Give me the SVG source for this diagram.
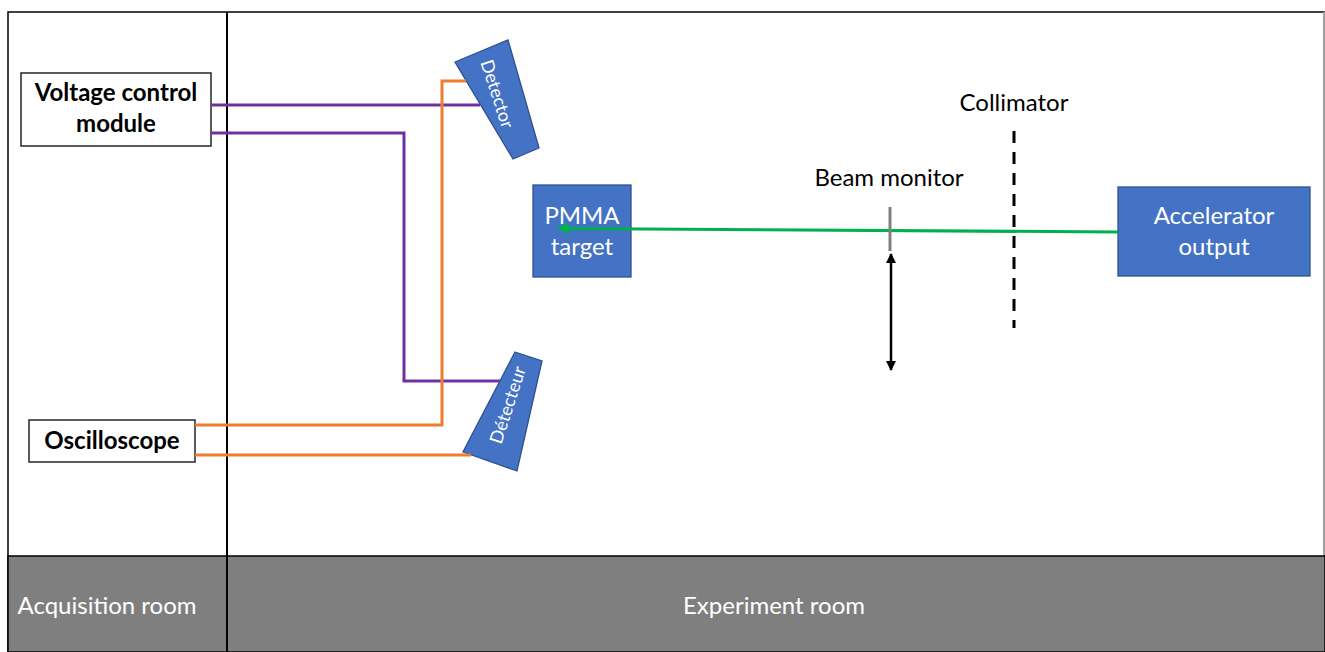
<svg xmlns="http://www.w3.org/2000/svg" width="1325" height="652" viewBox="0 0 1325 652">
<defs>
<style>
.t{font-family:Lato,"Liberation Sans",sans-serif;font-size:24px;text-anchor:middle}
.w{fill:#fff}
.k{fill:#000}
.b{font-weight:bold}
.node{fill:#4472C4;stroke:#2F528F;stroke-width:1.3}
.box{fill:#fff;stroke:#262626;stroke-width:1.5}
.pur{fill:none;stroke:#7030A0;stroke-width:3}
.ora{fill:none;stroke:#ED7D31;stroke-width:3}
.dt{font-family:Lato,"Liberation Sans",sans-serif;font-size:18px;text-anchor:middle;fill:#fff}
</style>
<marker id="ah" viewBox="0 0 10 10" refX="9" refY="5" markerWidth="4" markerHeight="4" orient="auto-start-reverse"><path d="M0,0L10,5L0,10z" fill="#00B050"/></marker>
<marker id="bk" viewBox="0 0 10 10" refX="9" refY="5" markerWidth="4" markerHeight="4" orient="auto-start-reverse"><path d="M0,0L10,5L0,10z" fill="#000"/></marker>
</defs>
<rect x="0" y="0" width="1325" height="652" fill="#fff"/>
<g id="frame">
<rect x="8" y="12" width="1316" height="640" fill="#fff" stroke="#000" stroke-width="1.5"/>
<line x1="1324" y1="12" x2="1324" y2="556" stroke="#bfbfbf" stroke-width="1.5"/>
<rect x="8" y="556" width="1317" height="96" fill="#7f7f7f" stroke="#000" stroke-width="1.5"/>
<line x1="227" y1="12" x2="227" y2="652" stroke="#000" stroke-width="2"/>
<text class="t w" x="107" y="614">Acquisition room</text>
<text class="t w" x="774" y="614">Experiment room</text>
</g>
<g id="voltage">
<rect class="box" x="21" y="73" width="190" height="73"/>
<text class="t k b" x="116" y="101">Voltage control</text>
<text class="t k b" x="116" y="132">module</text>
</g>
<g id="oscilloscope">
<rect class="box" x="29" y="420" width="166" height="42"/>
<text class="t k b" x="112" y="449">Oscilloscope</text>
</g>
<g id="detector1">
<polygon class="node" points="455,62 508,40 539,148 513,159"/>
<text class="dt" transform="translate(497,94) rotate(72)" dy="6">Detector</text>
</g>
<g id="detector2">
<polygon class="node" points="515,352 542,361 517,471 463,452"/>
<text class="dt" transform="translate(508,405) rotate(-72)" dy="6">Détecteur</text>
</g>
<g id="pmma">
<rect class="node" x="533" y="185" width="98" height="92"/>
<text class="t w" x="582" y="224">PMMA</text>
<text class="t w" x="582" y="255">target</text>
</g>
<g id="accelerator">
<rect class="node" x="1118" y="187" width="192" height="89"/>
<text class="t w" x="1214" y="224">Accelerator</text>
<text class="t w" x="1214" y="255">output</text>
</g>
<g id="beammonitor">
<text class="t k" x="889" y="186">Beam monitor</text>
</g>
<g id="collimator">
<text class="t k" x="1014" y="111">Collimator</text>
</g>
<g id="connectors">
<polyline class="pur" points="211,105 480,105"/>
<polyline class="pur" points="211,133 404,133 404,381 500,381"/>
<polyline class="ora" points="195,425 442,425 442,81 466,81"/>
<polyline class="ora" points="195,455 471,455"/>
<line x1="1118" y1="232" x2="558" y2="228.5" stroke="#00B050" stroke-width="3" marker-end="url(#ah)"/>
<line x1="890" y1="207" x2="890" y2="251" stroke="#808080" stroke-width="3"/>
<line x1="891" y1="254" x2="891" y2="370" stroke="#000" stroke-width="2.5" marker-start="url(#bk)" marker-end="url(#bk)"/>
<line x1="1014" y1="131" x2="1014" y2="328" stroke="#000" stroke-width="3" stroke-dasharray="12,9"/>
</g>
</svg>
